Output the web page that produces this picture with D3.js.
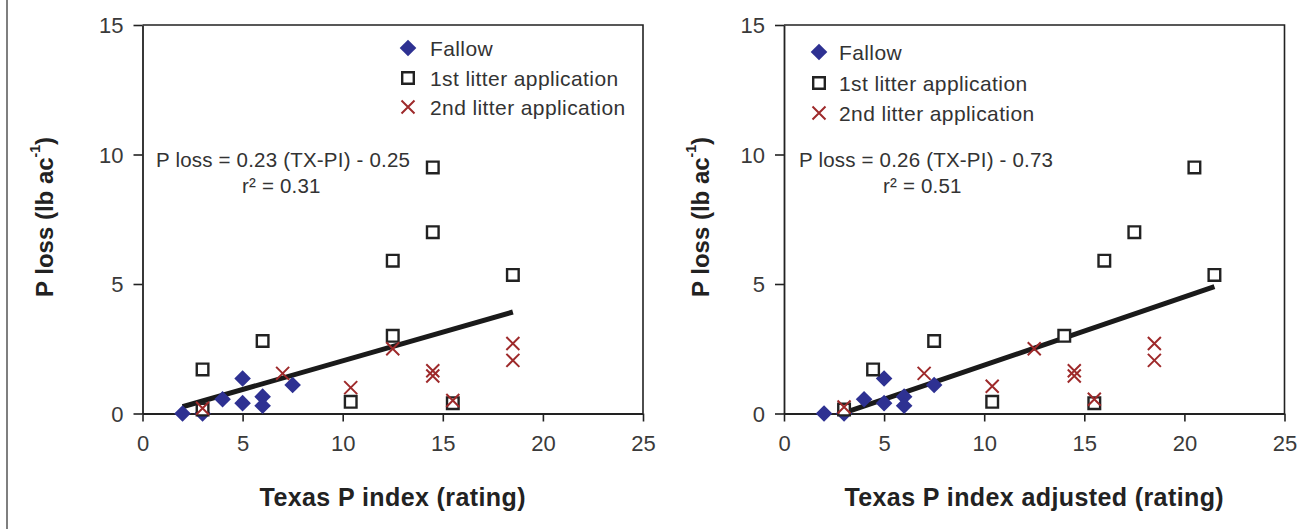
<!DOCTYPE html>
<html>
<head>
<meta charset="utf-8">
<script src="https://cdn.jsdelivr.net/npm/d3@7"></script>
<style>
  html, body { margin: 0; padding: 0; background: #fff; }
  svg { display: block; }
  text { font-family: "Liberation Sans", Arial, sans-serif; }
</style>
</head>
<body>
<script>
// ---------- data ----------
const xTicks = [0, 5, 10, 15, 20, 25];
const yTicks = [0, 5, 10, 15];
const seriesNames = ["Fallow", "1st litter application", "2nd litter application"];

// Panel 1: Texas P index
const fallowX1 = [2, 3, 4, 5, 5, 6, 6, 7.5];
const fallowY1 = [0, 0, 0.55, 1.35, 0.4, 0.65, 0.3, 1.1];
const litter1X1 = [3, 3, 6, 10.4, 12.5, 12.5, 14.5, 14.5, 15.5, 18.5];
const litter1Y1 = [1.7, 0.15, 2.8, 0.45, 5.9, 3.0, 9.5, 7.0, 0.4, 5.35];
const litter2X1 = [3, 7, 10.4, 12.5, 14.5, 14.5, 15.5, 18.5, 18.5];
const litter2Y1 = [0.2, 1.55, 1.0, 2.5, 1.65, 1.45, 0.5, 2.7, 2.05];
const fitX1 = [2, 18.5];
const fitY1 = [0.26, 3.92];

// Panel 2: Texas P index adjusted
const fallowX2 = [2, 3, 4, 5, 5, 6, 6, 7.5];
const fallowY2 = [0, 0, 0.55, 1.35, 0.4, 0.65, 0.3, 1.1];
const litter1X2 = [4.45, 3, 7.5, 10.4, 16, 14, 20.5, 17.5, 15.5, 21.5];
const litter1Y2 = [1.7, 0.15, 2.8, 0.45, 5.9, 3.0, 9.5, 7.0, 0.4, 5.35];
const litter2X2 = [3, 7, 10.4, 12.5, 14.5, 14.5, 15.5, 18.5, 18.5];
const litter2Y2 = [0.25, 1.55, 1.05, 2.5, 1.65, 1.45, 0.55, 2.7, 2.05];
const fitX2 = [3, 21.5];
const fitY2 = [0.02, 4.9];

// ---------- drawing ----------
const W = 1306, H = 529;
const svg = d3.select("body").append("svg").attr("width", W).attr("height", H);

// page border line at far left
svg.append("line").attr("x1", 7).attr("x2", 7).attr("y1", 0).attr("y2", H)
  .attr("stroke", "#555").attr("stroke-width", 1.5);

const BLUE = "#2e3192", RED = "#9e2a2b", INK = "#222";

function zipXY(xs, ys) { return xs.map((x, i) => [x, ys[i]]); }

function drawPanel(p) {
  const x = d3.scaleLinear().domain([0, 25]).range([p.x0, p.x1]);
  const y = d3.scaleLinear().domain([0, 15]).range([413.5, 25]);
  const g = svg.append("g");

  // frame (top + right)
  g.append("path")
    .attr("d", `M${x(0)},${y(15)}H${x(25)}V${y(0)}`)
    .attr("fill", "none").attr("stroke", INK).attr("stroke-width", 1.6);

  // axes
  const ax = g.append("g").attr("transform", `translate(0,${y(0)})`)
    .call(d3.axisBottom(x).tickValues(xTicks).tickSize(8).tickSizeOuter(0).tickPadding(14));
  const ay = g.append("g").attr("transform", `translate(${x(0)},0)`)
    .call(d3.axisLeft(y).tickValues(yTicks).tickSize(9).tickSizeOuter(0).tickPadding(10));
  [ax, ay].forEach(a => {
    a.select(".domain").attr("stroke", INK).attr("stroke-width", 1.8);
    a.selectAll(".tick line").attr("stroke", INK).attr("stroke-width", 1.6);
    a.selectAll(".tick text").attr("fill", "#3a3a3a")
      .style("font-size", "22px").style("font-family", "'Liberation Sans', Arial, sans-serif");
  });
  ay.selectAll(".tick text").attr("dy", "0.36em");

  // regression line
  g.append("path")
    .attr("d", d3.line().x(d => x(d[0])).y(d => y(d[1]))(zipXY(p.fitX, p.fitY)))
    .attr("stroke", "#1a1a1a").attr("stroke-width", 5).attr("fill", "none");

  // markers
  const diamond = "M0,-8.3L8.3,0L0,8.3L-8.3,0Z";
  const square = "M-5.8,-5.8H5.8V5.8H-5.8Z";
  const cross = "M-6.5,-6.5L6.5,6.5M-6.5,6.5L6.5,-6.5";

  g.selectAll(".fallow").data(zipXY(p.fX, p.fY)).join("path")
    .attr("transform", d => `translate(${x(d[0])},${y(d[1])})`)
    .attr("d", diamond).attr("fill", BLUE);
  g.selectAll(".l1").data(zipXY(p.l1X, p.l1Y)).join("path")
    .attr("transform", d => `translate(${x(d[0])},${y(d[1])})`)
    .attr("d", square).attr("fill", "#fff").attr("stroke", INK).attr("stroke-width", 2.4);
  g.selectAll(".l2").data(zipXY(p.l2X, p.l2Y)).join("path")
    .attr("transform", d => `translate(${x(d[0])},${y(d[1])})`)
    .attr("d", cross).attr("fill", "none").attr("stroke", RED).attr("stroke-width", 2);

  // legend
  const lg = g.append("g");
  const shapes = [
    s => s.attr("d", diamond).attr("fill", BLUE),
    s => s.attr("d", square).attr("fill", "#fff").attr("stroke", INK).attr("stroke-width", 2.4),
    s => s.attr("d", cross).attr("fill", "none").attr("stroke", RED).attr("stroke-width", 2)
  ];
  seriesNames.forEach((name, i) => {
    const yy = p.legY[i];
    lg.append("path").attr("transform", `translate(${p.legX},${yy})`).call(shapes[i]);
    lg.append("text").attr("x", p.legTX).attr("y", yy).attr("dominant-baseline", "central")
      .attr("fill", "#333").style("font-size", "21px").style("letter-spacing", "0.4px")
      .text(name);
  });

  // equation
  g.append("text").attr("x", p.eqX).attr("y", 159).attr("dominant-baseline", "central")
    .attr("fill", "#333").style("font-size", "20.5px").style("letter-spacing", "0.2px")
    .text(p.eq);
  g.append("text").attr("x", p.rX).attr("y", 185).attr("dominant-baseline", "central")
    .attr("fill", "#333").style("font-size", "20.5px").style("letter-spacing", "0.2px")
    .text("r\u00B2 = " + p.r2);

  // x title
  g.append("text").attr("x", (p.x0 + p.x1) / 2).attr("y", 497).attr("text-anchor", "middle")
    .attr("dominant-baseline", "central").attr("fill", "#222")
    .style("font-size", "25px").style("font-weight", "bold").style("letter-spacing", "0.4px")
    .text(p.xTitle);

  // y title
  const yt = g.append("text").attr("transform", `translate(${p.yTitleX},217) rotate(-90)`)
    .attr("text-anchor", "middle").attr("dominant-baseline", "central").attr("fill", "#222")
    .style("font-size", "24px").style("font-weight", "bold");
  yt.append("tspan").text("P loss (lb ac");
  yt.append("tspan").attr("dy", -9).style("font-size", "14px").text("-1");
  yt.append("tspan").attr("dy", 9).text(")");
}

drawPanel({
  x0: 142.5, x1: 643,
  fX: fallowX1, fY: fallowY1, l1X: litter1X1, l1Y: litter1Y1, l2X: litter2X1, l2Y: litter2Y1,
  fitX: fitX1, fitY: fitY1,
  legX: 408, legTX: 430, legY: [48, 78, 107],
  eqX: 156, eq: "P loss = 0.23 (TX-PI) - 0.25", rX: 242, r2: "0.31",
  xTitle: "Texas P index (rating)", yTitleX: 44
});
drawPanel({
  x0: 784, x1: 1284.5,
  fX: fallowX2, fY: fallowY2, l1X: litter1X2, l1Y: litter1Y2, l2X: litter2X2, l2Y: litter2Y2,
  fitX: fitX2, fitY: fitY2,
  legX: 819, legTX: 839, legY: [52, 83, 113],
  eqX: 799, eq: "P loss = 0.26 (TX-PI) - 0.73", rX: 883, r2: "0.51",
  xTitle: "Texas P index adjusted (rating)", yTitleX: 700
});
</script>
</body>
</html>
